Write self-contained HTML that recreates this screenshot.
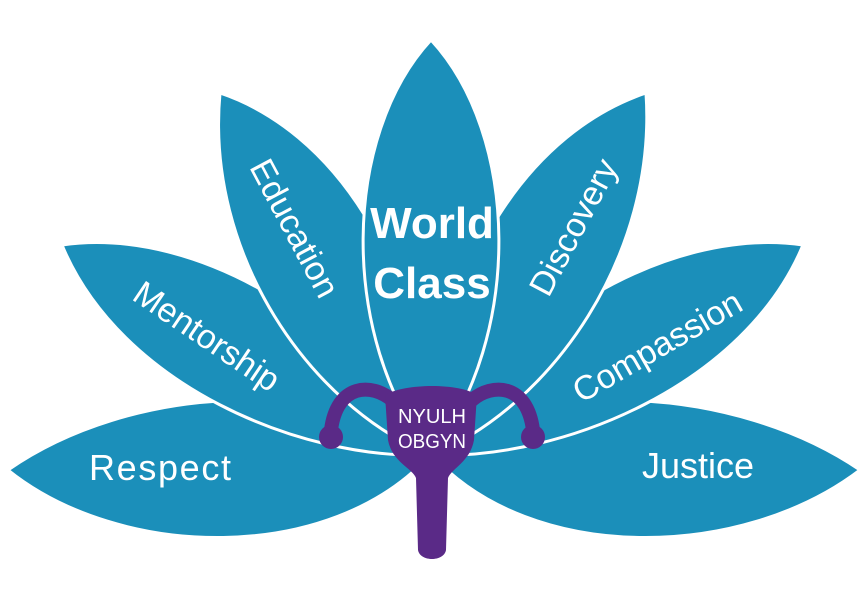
<!DOCTYPE html>
<html><head><meta charset="utf-8"><style>
html,body{margin:0;padding:0;background:#fff;}
svg{display:block;}
text{font-family:"Liberation Sans",sans-serif;fill:#fff;}
</style></head><body>
<svg width="867" height="614" viewBox="0 0 867 614">
<g fill="#1b8fba" stroke="#fff" stroke-width="3">
<path d="M430,455 C 330,565 120,560 8,470 C 130,385 330,375 430,455Z"/>
<path d="M432,455 C 532,565 742,560 860,470 C 735,385 532,375 432,455Z"/>
<path d="M430,455 C 300,460 120,385 62,245 C 200,225 360,330 430,455Z"/>
<path d="M432,455 C 562,460 745,385 803,245 C 665,225 502,330 432,455Z"/>
<path d="M430,455 C 310,405 205,255 220,93 C 330,130 425,260 430,455Z"/>
<path d="M432,455 C 552,405 657,255 646,93 C 535,130 437,260 432,455Z"/>
<path d="M431,455 C 338,335 343,135 431,40 C 519,135 524,335 431,455Z"/>
</g>
<text x="432" y="238" font-size="44" font-weight="bold" text-anchor="middle">World</text>
<text x="432" y="298" font-size="44" font-weight="bold" text-anchor="middle">Class</text>
<text transform="translate(295,228) rotate(62)" font-size="34" text-anchor="middle" dy="12">Education</text>
<text transform="translate(207,336) rotate(34)" font-size="34" text-anchor="middle" dy="12">Mentorship</text>
<text x="160" y="480" font-size="36" text-anchor="middle" textLength="142">Respect</text>
<text transform="translate(573,227) rotate(-62)" font-size="34" text-anchor="middle" dy="12">Discovery</text>
<text transform="translate(657,346) rotate(-30)" font-size="34" text-anchor="middle" dy="12">Compassion</text>
<text x="698" y="478" font-size="36" text-anchor="middle">Justice</text>
<g fill="#5a2a87">
<path d="M392,400 C 372,383 337,383 331,430" fill="none" stroke="#5a2a87" stroke-width="14" stroke-linecap="round"/>
<path d="M472,400 C 492,383 527,383 533,430" fill="none" stroke="#5a2a87" stroke-width="14" stroke-linecap="round"/>
<circle cx="331" cy="437" r="12"/>
<circle cx="533" cy="437" r="12"/>
<path d="M385,395 C 405,383 460,383 477,395 L 474,440 C 470,462 452,468 448,478 L 446,550 C 444,562 420,562 418,550 L 416,478 C 412,468 392,462 388,440 Z"/>
</g>
<text x="432" y="423" font-size="20" text-anchor="middle" textLength="68" lengthAdjust="spacingAndGlyphs">NYULH</text>
<text x="432" y="448" font-size="20" text-anchor="middle" textLength="68" lengthAdjust="spacingAndGlyphs">OBGYN</text>
</svg>
</body></html>
